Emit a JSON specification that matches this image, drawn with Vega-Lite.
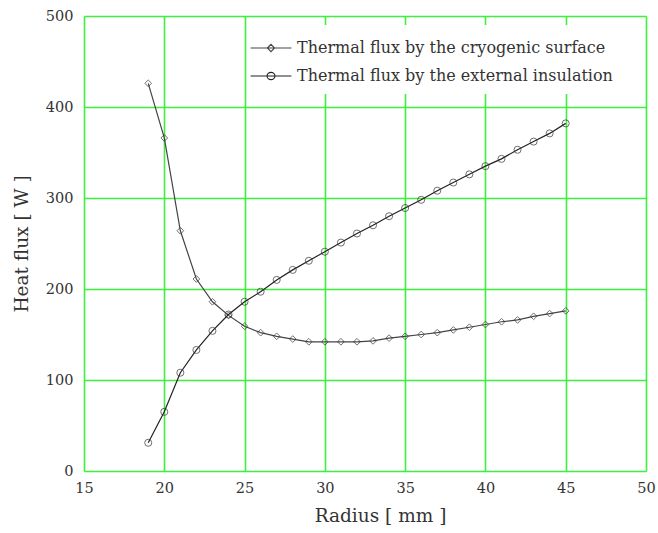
{
  "$schema": "https://vega.github.io/schema/vega-lite/v6.json",
  "width": 562,
  "height": 455,
  "autosize": {"type": "none"},
  "padding": {"left": 84, "top": 16, "right": 12, "bottom": 62},
  "background": "white",
  "config": {"view": {"stroke": null}, "font": "DejaVu Serif"},
  "data": {
    "values": [
      {"r": 19, "flux": 426, "series": "Thermal flux by the cryogenic surface"},
      {"r": 20, "flux": 366, "series": "Thermal flux by the cryogenic surface"},
      {"r": 21, "flux": 264, "series": "Thermal flux by the cryogenic surface"},
      {"r": 22, "flux": 211, "series": "Thermal flux by the cryogenic surface"},
      {"r": 23, "flux": 186, "series": "Thermal flux by the cryogenic surface"},
      {"r": 24, "flux": 171, "series": "Thermal flux by the cryogenic surface"},
      {"r": 25, "flux": 159, "series": "Thermal flux by the cryogenic surface"},
      {"r": 26, "flux": 152, "series": "Thermal flux by the cryogenic surface"},
      {"r": 27, "flux": 148, "series": "Thermal flux by the cryogenic surface"},
      {"r": 28, "flux": 145, "series": "Thermal flux by the cryogenic surface"},
      {"r": 29, "flux": 142, "series": "Thermal flux by the cryogenic surface"},
      {"r": 30, "flux": 142, "series": "Thermal flux by the cryogenic surface"},
      {"r": 31, "flux": 142, "series": "Thermal flux by the cryogenic surface"},
      {"r": 32, "flux": 142, "series": "Thermal flux by the cryogenic surface"},
      {"r": 33, "flux": 143, "series": "Thermal flux by the cryogenic surface"},
      {"r": 34, "flux": 146, "series": "Thermal flux by the cryogenic surface"},
      {"r": 35, "flux": 148, "series": "Thermal flux by the cryogenic surface"},
      {"r": 36, "flux": 150, "series": "Thermal flux by the cryogenic surface"},
      {"r": 37, "flux": 152, "series": "Thermal flux by the cryogenic surface"},
      {"r": 38, "flux": 155, "series": "Thermal flux by the cryogenic surface"},
      {"r": 39, "flux": 158, "series": "Thermal flux by the cryogenic surface"},
      {"r": 40, "flux": 161, "series": "Thermal flux by the cryogenic surface"},
      {"r": 41, "flux": 164, "series": "Thermal flux by the cryogenic surface"},
      {"r": 42, "flux": 166, "series": "Thermal flux by the cryogenic surface"},
      {"r": 43, "flux": 170, "series": "Thermal flux by the cryogenic surface"},
      {"r": 44, "flux": 173, "series": "Thermal flux by the cryogenic surface"},
      {"r": 45, "flux": 176, "series": "Thermal flux by the cryogenic surface"},
      {"r": 19, "flux": 31, "series": "Thermal flux by the external insulation"},
      {"r": 20, "flux": 65, "series": "Thermal flux by the external insulation"},
      {"r": 21, "flux": 108, "series": "Thermal flux by the external insulation"},
      {"r": 22, "flux": 133, "series": "Thermal flux by the external insulation"},
      {"r": 23, "flux": 154, "series": "Thermal flux by the external insulation"},
      {"r": 24, "flux": 172, "series": "Thermal flux by the external insulation"},
      {"r": 25, "flux": 186, "series": "Thermal flux by the external insulation"},
      {"r": 26, "flux": 197, "series": "Thermal flux by the external insulation"},
      {"r": 27, "flux": 210, "series": "Thermal flux by the external insulation"},
      {"r": 28, "flux": 221, "series": "Thermal flux by the external insulation"},
      {"r": 29, "flux": 231, "series": "Thermal flux by the external insulation"},
      {"r": 30, "flux": 241, "series": "Thermal flux by the external insulation"},
      {"r": 31, "flux": 251, "series": "Thermal flux by the external insulation"},
      {"r": 32, "flux": 261, "series": "Thermal flux by the external insulation"},
      {"r": 33, "flux": 270, "series": "Thermal flux by the external insulation"},
      {"r": 34, "flux": 280, "series": "Thermal flux by the external insulation"},
      {"r": 35, "flux": 289, "series": "Thermal flux by the external insulation"},
      {"r": 36, "flux": 298, "series": "Thermal flux by the external insulation"},
      {"r": 37, "flux": 308, "series": "Thermal flux by the external insulation"},
      {"r": 38, "flux": 317, "series": "Thermal flux by the external insulation"},
      {"r": 39, "flux": 326, "series": "Thermal flux by the external insulation"},
      {"r": 40, "flux": 335, "series": "Thermal flux by the external insulation"},
      {"r": 41, "flux": 343, "series": "Thermal flux by the external insulation"},
      {"r": 42, "flux": 353, "series": "Thermal flux by the external insulation"},
      {"r": 43, "flux": 362, "series": "Thermal flux by the external insulation"},
      {"r": 44, "flux": 371, "series": "Thermal flux by the external insulation"},
      {"r": 45, "flux": 382, "series": "Thermal flux by the external insulation"}
    ]
  },
  "encoding": {
    "x": {
      "field": "r",
      "type": "quantitative",
      "scale": {"domain": [15, 50], "nice": false, "zero": false},
      "axis": {
        "values": [15, 20, 25, 30, 35, 40, 45, 50],
        "grid": true,
        "gridColor": "#3cf03c",
        "gridWidth": 1.6,
        "domain": false,
        "ticks": false,
        "labelFlush": false,
        "labelPadding": 10,
        "labelFont": "DejaVu Serif",
        "labelFontSize": 14.5,
        "labelColor": "#333333",
        "title": "Radius [ mm ]",
        "titleFont": "DejaVu Serif",
        "titleFontSize": 18.5,
        "titleFontWeight": "normal",
        "titleColor": "#333333",
        "titlePadding": 12,
        "titleX": 296
      }
    },
    "y": {
      "field": "flux",
      "type": "quantitative",
      "scale": {"domain": [0, 500], "nice": false},
      "axis": {
        "values": [0, 100, 200, 300, 400, 500],
        "grid": true,
        "gridColor": "#3cf03c",
        "gridWidth": 1.6,
        "domain": false,
        "ticks": false,
        "labelFlush": false,
        "labelPadding": 11,
        "labelFont": "DejaVu Serif",
        "labelFontSize": 14.5,
        "labelColor": "#333333",
        "title": "Heat flux [ W ]",
        "titleFont": "DejaVu Serif",
        "titleFontSize": 18.5,
        "titleFontWeight": "normal",
        "titleColor": "#333333",
        "titlePadding": 14
      }
    }
  },
  "layer": [
    {
      "mark": {"type": "line", "strokeWidth": 1.2},
      "encoding": {
        "color": {
          "field": "series",
          "type": "nominal",
          "scale": {
            "domain": ["Thermal flux by the cryogenic surface", "Thermal flux by the external insulation"],
            "range": ["#444444", "#222222"]
          },
          "legend": {
            "title": null,
            "orient": "none",
            "legendX": 164,
            "legendY": 9,
            "fillColor": "white",
            "padding": 10,
            "symbolSize": 576,
            "symbolType": "M-1.7,0H1.7",
            "symbolStrokeWidth": 1.1,
            "labelOffset": 13,
            "rowPadding": 7,
            "labelFont": "DejaVu Serif",
            "labelFontSize": 16,
            "labelColor": "#333333",
            "labelLimit": 400,
            "encode": {
              "symbols": {
                "update": {
                  "shape": {"signal": "datum.value === 'Thermal flux by the cryogenic surface' ? 'M-1.7,0H1.7M-0.3,0L0,-0.3L0.3,0L0,0.3Z' : 'M-1.7,0H1.7M-0.33,0A0.33,0.3 0 1,0 0.33,0A0.33,0.3 0 1,0 -0.33,0'"},
                  "fill": {"value": "transparent"},
                  "stroke": {"signal": "datum.value === 'Thermal flux by the cryogenic surface' ? '#555555' : '#222222'"},
                  "strokeWidth": {"value": 1.1}
                }
              }
            }
          }
        }
      }
    },
    {
      "transform": [{"filter": "datum.series === 'Thermal flux by the cryogenic surface'"}],
      "mark": {"type": "point", "shape": "diamond", "filled": false, "strokeWidth": 1, "size": 45, "color": "#333333"}
    },
    {
      "transform": [{"filter": "datum.series === 'Thermal flux by the external insulation'"}],
      "mark": {"type": "point", "shape": "circle", "filled": false, "strokeWidth": 1, "size": 50, "color": "#333333"}
    }
  ]
}
